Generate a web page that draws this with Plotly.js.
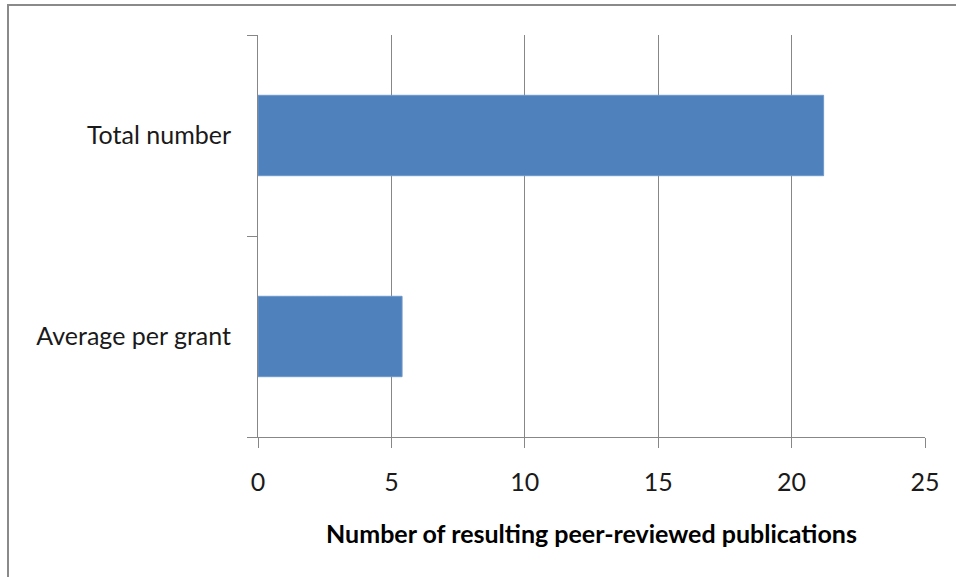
<!DOCTYPE html>
<html>
<head>
<meta charset="utf-8">
<script src="https://cdn.plot.ly/plotly-3.0.1.min.js"></script>
<style>
  html, body { margin: 0; padding: 0; background: #ffffff; }
  #chart { width: 956px; height: 577px; }
</style>
</head>
<body>
<div id="chart"></div>
<script>
// Publication counts, listed bottom-to-top as Plotly draws horizontal categories
const categories = ['Average per grant', 'Total number'];
const publications = [5.4, 21.2];
const xTickValues = [0, 5, 10, 15, 20, 25];

const axisGrey = '#878787';
const fontFamily = 'Lato, "Open Sans", sans-serif';

const trace = {
  type: 'bar',
  orientation: 'h',
  y: categories,
  x: publications,
  width: 0.4,
  marker: { color: '#4F81BD', line: { color: '#6E98CC', width: 1 } },
  hoverinfo: 'x+y'
};

const layout = {
  width: 956,
  height: 577,
  margin: { l: 258, r: 31, t: 35, b: 140 },
  paper_bgcolor: '#ffffff',
  plot_bgcolor: '#ffffff',
  showlegend: false,
  font: { family: fontFamily, color: '#1a1a1a' },
  xaxis: {
    range: [0, 25],
    tickvals: xTickValues,
    ticktext: xTickValues.map(String),
    showgrid: true,
    gridcolor: axisGrey,
    gridwidth: 1,
    zeroline: false,
    showline: true,
    linecolor: axisGrey,
    linewidth: 1,
    ticks: 'outside',
    ticklen: 10,
    tickcolor: axisGrey,
    ticklabelstandoff: 13,
    tickfont: { size: 25, family: fontFamily, color: '#1a1a1a' },
    title: {
      text: '<b>Number of resulting peer-reviewed publications</b>',
      font: { size: 25, family: fontFamily, color: '#000000' },
      standoff: 30
    },
    automargin: false,
    fixedrange: true
  },
  yaxis: {
    type: 'category',
    categoryorder: 'array',
    categoryarray: categories,
    tickson: 'boundaries',
    showgrid: false,
    zeroline: false,
    showline: true,
    linecolor: axisGrey,
    linewidth: 1,
    ticks: 'outside',
    ticklen: 10,
    tickcolor: axisGrey,
    ticklabelstandoff: 21,
    tickfont: { size: 25, family: fontFamily, color: '#1a1a1a' },
    automargin: false,
    fixedrange: true
  },
  shapes: [
    {
      // chart-area frame (top and left edges fall inside the page)
      type: 'rect',
      xref: 'paper', yref: 'paper',
      x0: (8 - 258) / 667, x1: 2,
      y0: -1, y1: (437 - 5) / 402,
      line: { color: '#8a8a8a', width: 2 },
      layer: 'below'
    }
  ]
};

Plotly.newPlot('chart', [trace], layout, { staticPlot: true, displayModeBar: false });
</script>
</body>
</html>
